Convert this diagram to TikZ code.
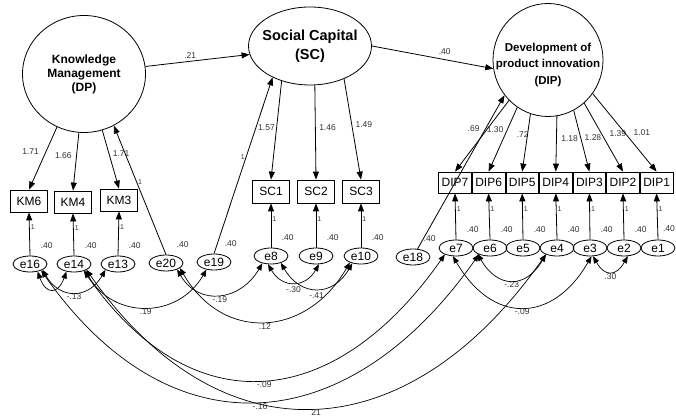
\documentclass[tikz,border=0pt]{standalone}
\usepackage{fontspec}
\setmainfont{Liberation Sans}
\usetikzlibrary{shapes.geometric,arrows.meta}

\begin{document}
\begin{tikzpicture}[x=1pt,y=-1pt,
    latent/.style={ellipse, draw, line width=0.8pt, inner sep=0pt, align=center, font=\bfseries\fontsize{12}{14}\selectfont},
    ind/.style={rectangle, draw, line width=0.8pt, minimum width=37pt, minimum height=22pt, inner sep=1pt, font=\fontsize{12}{14}\selectfont},
    err/.style={ellipse, draw, line width=0.8pt, minimum width=34pt, minimum height=16pt, inner sep=0pt, font=\fontsize{12}{14}\selectfont, label={[vlab]#1:.40}},
    err/.default=55,
    vlab/.style={font=\fontsize{8.5}{10}\selectfont, inner sep=0.5pt, label distance=8pt, text=black!80},
    lab/.style={font=\fontsize{8.5}{10}\selectfont, inner sep=1.5pt, text=black!80},
    one/.style={font=\fontsize{7}{8}\selectfont, inner sep=1pt, text=black!80},
    reg/.style={-{Triangle[length=8pt,width=6pt]}, line width=0.8pt},
    cov/.style={{Triangle[length=7pt,width=5.5pt]}-{Triangle[length=7pt,width=5.5pt]}, line width=0.7pt}]

    \useasboundingbox (0,0) rectangle (676,419);

    % Draw latent variables
    \node[latent, minimum width=123pt, minimum height=117pt] (KM) at (84,74) {Knowledge\\Management\\(DP)};
    \node[latent, minimum width=123pt, minimum height=78pt, inner xsep=-5pt, font=\bfseries\fontsize{14.5}{19}\selectfont] (SC) at (310,46) {Social Capital\\(SC)};
    \node[latent, minimum width=110pt, minimum height=113pt,
        label={[font=\bfseries\fontsize{11.5}{16.5}\selectfont, align=center, yshift=-5pt]center:Development of\\product innovation\\(DIP)}] (DIP) at (548,60) {};

    % Draw observed variables
    \node[ind] (KM6) at (29,201) {KM6};
    \node[ind] (KM4) at (73,202) {KM4};
    \node[ind] (KM3) at (119,200) {KM3};
    \node[ind, minimum height=23pt] (SC1) at (271,191.5) {SC1};
    \node[ind, minimum height=23pt] (SC2) at (316,191.5) {SC2};
    \node[ind, minimum height=23pt] (SC3) at (361,191.5) {SC3};
    \foreach \i/\x in {7/455,6/488.6,5/522.2,4/555.8,3/589.4,2/623,1/656.6}
        \node[ind, minimum width=32.6pt, minimum height=21pt] (DIP\i) at (\x,182.5) {DIP\i};

    % Draw error terms
    \node[err] (e16) at (30,264) {e16};
    \node[err] (e14) at (74,264) {e14};
    \node[err] (e13) at (118,264) {e13};
    \node[err] (e20) at (166,263) {e20};
    \node[err] (e19) at (214,262) {e19};
    \node[err] (e8) at (271,256) {e8};
    \node[err] (e9) at (316,256) {e9};
    \node[err] (e10) at (361,256) {e10};
    \node[err] (e18) at (413,257) {e18};
    \foreach \i/\x in {7/456,6/490,5/523,4/557,3/590,2/624}
        \node[err] (e\i) at (\x,248) {e\i};
    \node[err=75] (e1) at (658,248) {e1};

    % Structural paths
    \draw[reg] (KM.7) -- node[lab, above=1pt, pos=0.43] {.21} (SC.-172);
    \draw[reg] (SC.east) -- node[lab, above=3pt, pos=0.6] {.40} (DIP.-171);
    \draw[reg] (e20.north) -- node[one, right, pos=0.56] {1} (KM.-60);
    \draw[reg] (e19.north) -- node[one, left, pos=0.55] {1} (SC.-140);
    \draw[reg] (e18) -- (DIP.-141);

    % Loadings
    \draw[reg] (KM.-117) -- node[lab, left=5pt, pos=0.4] {1.71} (KM6.north);
    \draw[reg] (KM.-95) -- node[lab, left=3pt, pos=0.4] {1.66} (KM4.north);
    \draw[reg] (KM.-72) -- node[lab, right=2pt, pos=0.4] {1.71} (KM3.north);
    \draw[reg] (SC.-129) -- node[lab, left, pos=0.47] {1.57} (SC1.north);
    \draw[reg] (SC.-83) -- node[lab, right=2pt, pos=0.45] {1.46} (SC2.north);
    \draw[reg] (SC.-44) -- node[lab, right=2pt, pos=0.45] {1.49} (SC3.north);
    \draw[reg] (DIP.-134) -- node[lab, left=6pt, pos=0.4] {.69} (DIP7.north);
    \draw[reg] (DIP.-123) -- node[lab, left=2pt, pos=0.35] {1.30} (DIP6.north);
    \draw[reg] (DIP.-108) -- node[lab, left=-3pt, pos=0.35] {.72} (DIP5.north);
    \draw[reg] (DIP.-81) -- node[lab, right=3pt, pos=0.4] {1.18} (DIP4.north);
    \draw[reg] (DIP.-63) -- node[lab, right=2pt, pos=0.45] {1.28} (DIP3.north);
    \draw[reg] (DIP.-50) -- node[lab, right=6pt, pos=0.45] {1.39} (DIP2.north);
    \draw[reg] (DIP.-37) -- node[lab, right=7pt, pos=0.5] {1.01} (DIP1.north);

    % Error paths
    \foreach \e/\v in {e16/KM6,e14/KM4,e13/KM3,e8/SC1,e9/SC2,e10/SC3,e7/DIP7,e6/DIP6,e5/DIP5,e4/DIP4,e3/DIP3,e2/DIP2,e1/DIP1}
        \draw[reg] (\e.north) -- node[one, right, pos=0.65] {1} (\v.south);

    % Covariances
    \draw[cov] (e16.-45) to[out=-70,in=-110,looseness=2.2] (e14.-135);
    \draw[cov] (e16.-25) to[out=-60,in=-120,looseness=1.4] node[lab, below] {-.13} (e13.-155);
    \draw[cov] (e14.-30) to[out=-60,in=-120,looseness=1.2] node[lab, below] {.19} (e19.-135);
    \draw[cov] (e20.-30) to[out=-60,in=-120,looseness=1.3] node[lab, below] {-.19} (e8.-140);
    \draw[cov] (e20.-20) to[out=-60,in=-120,looseness=1.3] node[lab, below] {.12} (e10.-150);
    \draw[cov] (e8.-110) to[out=-60,in=-120,looseness=1.4] node[lab, below=2pt] {-.30} (e9.-70);
    \draw[cov] (e8.-35) to[out=-60,in=-120,looseness=1.4] node[lab, below=2pt] {-.41} (e10.-140);
    \draw[cov] (e14.-35) to[out=-55,in=-125,looseness=1.35] node[lab, below] {-.09} (e7.-150);
    \draw[cov] (e16.-30) to[out=-55,in=-125,looseness=1.32] node[lab, below] {-.16} (e6.-150);
    \draw[cov] (e14.-25) to[out=-55,in=-125,looseness=1.32] node[lab, below] {21} (e4.-150);
    \draw[cov] (e6.-155) to[out=-60,in=-120,looseness=1.5] node[lab, below] {-.23} (e4.-150);
    \draw[cov] (e7.-110) to[out=-60,in=-120,looseness=1.45] node[lab, below] {-.09} (e3.-80);
    \draw[cov] (e3.-70) to[out=-60,in=-120,looseness=1.75] node[lab, below] {.30} (e2.-65);

\end{tikzpicture}
\end{document}
